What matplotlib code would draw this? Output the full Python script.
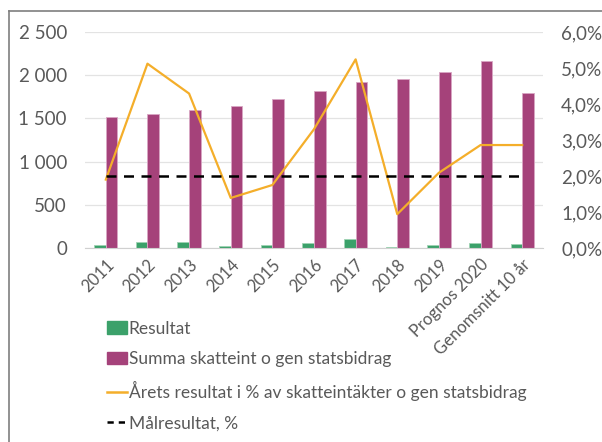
import matplotlib.pyplot as plt
from matplotlib.lines import Line2D
from matplotlib.patches import Patch
import numpy as np

# Data
kategorier = ['2011', '2012', '2013', '2014', '2015', '2016', '2017', '2018', '2019',
              'Prognos 2020', 'Genomsnitt 10 år']
resultat = [30, 75, 65, 20, 30, 55, 100, 15, 35, 60, 48]
skatteint = [1515, 1555, 1600, 1640, 1720, 1815, 1925, 1960, 2035, 2160, 1790]
resultat_pct = [1.9, 5.12, 4.29, 1.39, 1.75, 3.3, 5.24, 0.94, 2.09, 2.86, 2.86]
malresultat = [2.0] * len(kategorier)

plt.rcParams['font.family'] = ['Lato', 'DejaVu Sans']
grey = '#595959'

fig = plt.figure(figsize=(6.02, 4.42), dpi=100)
ax = fig.add_axes([85 / 602, 1 - 248 / 442, (543 - 85) / 602, (248 - 32) / 442])

x = np.arange(len(kategorier))
w = 0.28
ax.bar(x - w / 2, resultat, w, color='#3BA16A', edgecolor='#9fd3b3', linewidth=0.6)
ax.bar(x + w / 2, skatteint, w, color='#A5427A', edgecolor='#d9a6c4', linewidth=0.6)

ax.set_xlim(-0.5, len(kategorier) - 0.5)
ax.set_ylim(0, 2500)
ax.set_yticks(range(0, 2501, 500))
ax.set_yticklabels([f'{v:,}'.replace(',', ' ') for v in range(0, 2501, 500)])
ax.grid(axis='y', color='#e3e3e3', linewidth=0.9)
ax.set_axisbelow(True)
for s in ['top', 'right', 'left']:
    ax.spines[s].set_visible(False)
ax.spines['bottom'].set_color('#d0d0d0')
ax.tick_params(axis='both', length=0, colors=grey, labelsize=13.5)
ax.tick_params(axis='y', pad=13)
ax.set_xticks(x)
ax.set_xticklabels(kategorier, rotation=45, ha='right', rotation_mode='anchor', fontsize=12)
ax.tick_params(axis='x', pad=6)

ax2 = ax.twinx()
ax2.plot(x, resultat_pct, color='#F4AE2A', linewidth=1.6)
ax2.plot(x, malresultat, color='black', linewidth=1.8, linestyle=(0, (4, 3)))
ax2.set_ylim(0, 6)
ax2.set_yticks(range(0, 7))
ax2.set_yticklabels([f'{v},0%' for v in range(0, 7)])
for s in ax2.spines.values():
    s.set_visible(False)
ax2.tick_params(axis='y', length=0, colors=grey, labelsize=13.5, pad=13)

handles = [
    Patch(color='#3BA16A'),
    Patch(color='#A5427A'),
    Line2D([], [], color='#F4AE2A', linewidth=1.8),
    Line2D([], [], color='black', linewidth=1.8, linestyle=(0, (2.5, 2))),
]
labels = ['Resultat', 'Summa skatteint o gen statsbidrag',
          'Årets resultat i % av skatteintäkter o gen statsbidrag', 'Målresultat, %']
leg = fig.legend(handles, labels, loc='upper left', bbox_to_anchor=(91 / 602, 1 - 305 / 442),
                 frameon=False, fontsize=12.5, handlelength=1.15, handletextpad=0.12,
                 labelspacing=0.82, labelcolor=grey)

# Chart border (only left and top edges visible)
fig.add_artist(Line2D([9 / 602, 9 / 602], [0, 1 - 11 / 442], color='#7f7f7f', linewidth=1.2,
                      transform=fig.transFigure))
fig.add_artist(Line2D([9 / 602, 1], [1 - 11 / 442, 1 - 11 / 442], color='#7f7f7f', linewidth=1.2,
                      transform=fig.transFigure))

fig.savefig('out.png', dpi=100)
